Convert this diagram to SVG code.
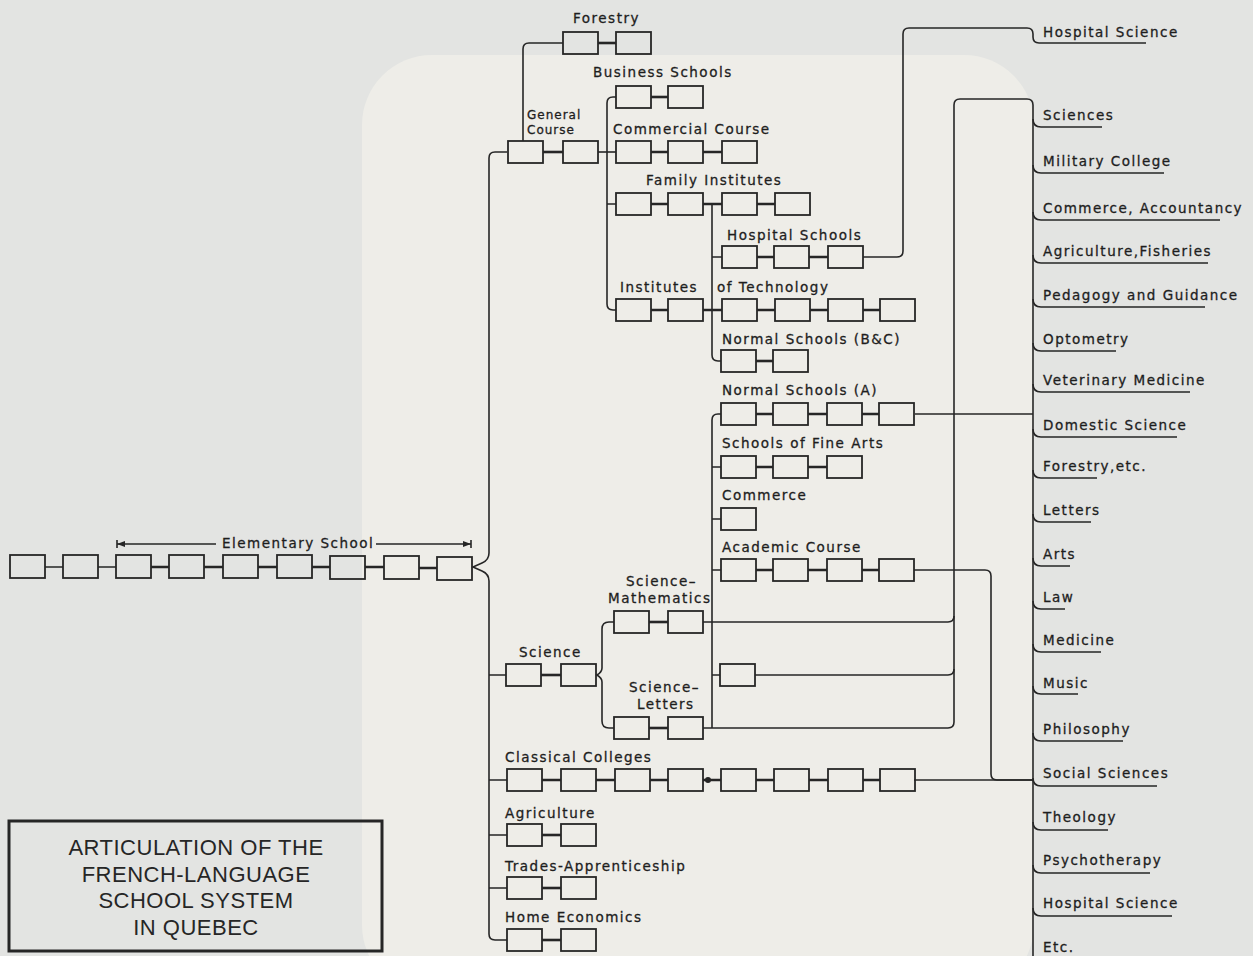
<svg xmlns="http://www.w3.org/2000/svg" width="1253" height="956" viewBox="0 0 1253 956">
<style>
.b{fill:none;stroke:#262626;stroke-width:1.8}
.lk{stroke:#262626;stroke-width:2.6}
.c{fill:none;stroke:#262626;stroke-width:1.6}
.t{font-family:"DejaVu Sans",sans-serif;font-size:13.5px;letter-spacing:1.5px;fill:#1e1e1e;stroke:#1e1e1e;stroke-width:0.3}
.ts{font-size:12px;letter-spacing:1px}
.ti{font-family:"Liberation Sans",sans-serif;font-size:22px;letter-spacing:0.5px;fill:#262626;text-anchor:middle}
</style>
<rect width="1253" height="956" fill="#e3e4e2"/>
<rect x="362" y="55" width="672" height="940" rx="70" fill="#eeede8"/>

<g id="connectors">
  <path class="c" d="M507,152 H495 Q489,152 489,158 V553 Q489,560 482,563 L473,567 L482,571 Q489,574 489,581 V934 Q489,940 495,940 H507"/>
  <path class="c" d="M489,675 H506 M489,780 H507 M489,835 H507 M489,888 H507"/>
  <path class="c" d="M523,141 V49 Q523,43 529,43 H563"/>
  <path class="c" d="M598,152 H616"/>
  <path class="c" d="M616,97 H613 Q607,97 607,103 V304 Q607,310 613,310 H616 M607,204 H616"/>
  <path class="c" d="M712,204 V355 Q712,361 718,361 H721 M712,257 H722"/>
  <path class="c" d="M863,257 H897 Q903,257 903,251 V34 Q903,28 909,28 H1027 Q1033,28 1033,34 V37 Q1033,43 1039,43 H1146"/>
  <path class="c" d="M721,414 H718 Q712,414 712,420 V728 M712,467 H721 M712,519 H721 M712,570 H721 M712,675 H720"/>
  <path class="c" d="M614,622 H609 Q602,622 602,629 V668 Q602,672 597,675 Q602,678 602,682 V721 Q602,728 609,728 H614"/>
  <path class="c" d="M703,728 H948 Q954,728 954,722 V105 Q954,99 960,99 H1027 Q1033,99 1033,105 V956"/>
  <path class="c" d="M703,622 H948 Q954,622 954,616 M755,675 H948 Q954,675 954,669"/>
  <path class="c" d="M915,414 H1033"/>
  <path class="c" d="M914,570 H985 Q991,570 991,576 V774 Q991,780 997,780 H1033"/>
  <path class="c" d="M914,780 H1033"/>
  <path class="c" d="M1033,119 Q1033,127 1041,127 H1102 M1033,165 Q1033,173 1041,173 H1164 M1033,212 Q1033,220 1041,220 H1220 M1033,255 Q1033,263 1041,263 H1208 M1033,299 Q1033,307 1041,307 H1205 M1033,343 Q1033,351 1041,351 H1116 M1033,384 Q1033,392 1041,392 H1190 M1033,429 Q1033,437 1041,437 H1177 M1033,470 Q1033,478 1041,478 H1097 M1033,514 Q1033,522 1041,522 H1091 M1033,558 Q1033,566 1041,566 H1070 M1033,601 Q1033,609 1041,609 H1065 M1033,644 Q1033,652 1041,652 H1101 M1033,686 Q1033,694 1041,694 H1078 M1033,733 Q1033,741 1041,741 H1123 M1033,778 Q1033,786 1041,786 H1157 M1033,822 Q1033,830 1041,830 H1108 M1033,865 Q1033,873 1041,873 H1150 M1033,908 Q1033,916 1041,916 H1172"/>
</g>

<g id="n-elementary">
  <text class="t" x="222" y="548">Elementary School</text>
  <path class="c" d="M117,544 H216 M376,544 H471 M117,540 V548 M471,540 V548"/>
  <polygon points="117,544 125,541 125,547" fill="#262626"/>
  <polygon points="471,544 463,541 463,547" fill="#262626"/>
  <rect class="b" x="10" y="555" width="35" height="23"/><rect class="b" x="63" y="555" width="35" height="23"/><rect class="b" x="116" y="555" width="35" height="23"/><rect class="b" x="169" y="555" width="35" height="23"/><rect class="b" x="223" y="555" width="35" height="23"/><rect class="b" x="277" y="555" width="35" height="23"/><rect class="b" x="330" y="556" width="35" height="23"/><rect class="b" x="384" y="556" width="35" height="23"/><rect class="b" x="437" y="557" width="35" height="23"/>
  <path class="c" d="M45,567 H63 M98,567 H116"/>
  <path class="lk" d="M151,567 H169 M204,567 H223 M258,567 H277 M312,567 H330 M365,567 H384 M419,568 H437"/>
</g>

<g id="n-forestry">
  <text class="t" x="573" y="23">Forestry</text>
  <rect class="b" x="563" y="32" width="35" height="22"/><rect class="b" x="616" y="32" width="35" height="22"/>
  <path class="lk" d="M598,43 H616"/>
</g>

<g id="n-general">
  <text class="t ts" x="527" y="119">General</text>
  <text class="t ts" x="527" y="134">Course</text>
  <rect class="b" x="508" y="141" width="35" height="22"/><rect class="b" x="563" y="141" width="35" height="22"/>
  <path class="lk" d="M543,152 H563"/>
</g>

<g id="n-business">
  <text class="t" x="593" y="77">Business Schools</text>
  <rect class="b" x="616" y="86" width="35" height="22"/><rect class="b" x="668" y="86" width="35" height="22"/>
  <path class="lk" d="M651,97 H668"/>
</g>

<g id="n-commercial">
  <text class="t" x="613" y="134">Commercial Course</text>
  <rect class="b" x="616" y="141" width="35" height="22"/><rect class="b" x="668" y="141" width="35" height="22"/><rect class="b" x="722" y="141" width="35" height="22"/>
  <path class="lk" d="M651,152 H668 M703,152 H722"/>
</g>

<g id="n-family">
  <text class="t" x="646" y="185">Family Institutes</text>
  <rect class="b" x="616" y="193" width="35" height="22"/><rect class="b" x="668" y="193" width="35" height="22"/><rect class="b" x="722" y="193" width="35" height="22"/><rect class="b" x="775" y="193" width="35" height="22"/>
  <path class="lk" d="M651,204 H668 M703,204 H722 M757,204 H775"/>
</g>

<g id="n-hospital-schools">
  <text class="t" x="727" y="240">Hospital Schools</text>
  <rect class="b" x="722" y="246" width="35" height="22"/><rect class="b" x="774" y="246" width="35" height="22"/><rect class="b" x="828" y="246" width="35" height="22"/>
  <path class="lk" d="M757,257 H774 M809,257 H828"/>
</g>

<g id="n-institutes">
  <text class="t" x="620" y="292">Institutes</text>
  <text class="t" x="717" y="292">of  Technology</text>
  <rect class="b" x="616" y="299" width="35" height="22"/><rect class="b" x="668" y="299" width="35" height="22"/><rect class="b" x="722" y="299" width="35" height="22"/><rect class="b" x="775" y="299" width="35" height="22"/><rect class="b" x="828" y="299" width="35" height="22"/><rect class="b" x="880" y="299" width="35" height="22"/>
  <path class="lk" d="M651,310 H668 M703,310 H722 M757,310 H775 M810,310 H828 M863,310 H880"/>
</g>

<g id="n-normal-bc">
  <text class="t" x="722" y="344">Normal Schools (B&amp;C)</text>
  <rect class="b" x="721" y="350" width="35" height="22"/><rect class="b" x="773" y="350" width="35" height="22"/>
  <path class="lk" d="M756,361 H773"/>
</g>

<g id="n-normal-a">
  <text class="t" x="722" y="395">Normal Schools (A)</text>
  <rect class="b" x="721" y="403" width="35" height="22"/><rect class="b" x="773" y="403" width="35" height="22"/><rect class="b" x="827" y="403" width="35" height="22"/><rect class="b" x="879" y="403" width="35" height="22"/>
  <path class="lk" d="M756,414 H773 M808,414 H827 M862,414 H879"/>
</g>

<g id="n-fine-arts">
  <text class="t" x="722" y="448">Schools of Fine Arts</text>
  <rect class="b" x="721" y="456" width="35" height="22"/><rect class="b" x="773" y="456" width="35" height="22"/><rect class="b" x="827" y="456" width="35" height="22"/>
  <path class="lk" d="M756,467 H773 M808,467 H827"/>
</g>

<g id="n-commerce">
  <text class="t" x="722" y="500">Commerce</text>
  <rect class="b" x="721" y="508" width="35" height="22"/>
</g>

<g id="n-academic">
  <text class="t" x="722" y="552">Academic Course</text>
  <rect class="b" x="721" y="559" width="35" height="22"/><rect class="b" x="773" y="559" width="35" height="22"/><rect class="b" x="827" y="559" width="35" height="22"/><rect class="b" x="879" y="559" width="35" height="22"/>
  <path class="lk" d="M756,570 H773 M808,570 H827 M862,570 H879"/>
</g>

<g id="n-sci-math">
  <text class="t" x="626" y="586">Science–</text>
  <text class="t" x="608" y="603">Mathematics</text>
  <rect class="b" x="614" y="611" width="35" height="22"/><rect class="b" x="668" y="611" width="35" height="22"/>
  <path class="lk" d="M649,622 H668"/>
</g>

<g id="n-science">
  <text class="t" x="519" y="657">Science</text>
  <rect class="b" x="506" y="664" width="35" height="22"/><rect class="b" x="561" y="664" width="35" height="22"/>
  <path class="lk" d="M541,675 H561"/>
</g>

<g id="n-single">
  <rect class="b" x="720" y="664" width="35" height="22"/>
</g>

<g id="n-sci-letters">
  <text class="t" x="629" y="692">Science–</text>
  <text class="t" x="637" y="709">Letters</text>
  <rect class="b" x="614" y="717" width="35" height="22"/><rect class="b" x="668" y="717" width="35" height="22"/>
  <path class="lk" d="M649,728 H668"/>
</g>

<g id="n-classical">
  <text class="t" x="505" y="762">Classical Colleges</text>
  <rect class="b" x="507" y="769" width="35" height="22"/><rect class="b" x="561" y="769" width="35" height="22"/><rect class="b" x="615" y="769" width="35" height="22"/><rect class="b" x="668" y="769" width="35" height="22"/><rect class="b" x="721" y="769" width="35" height="22"/><rect class="b" x="774" y="769" width="35" height="22"/><rect class="b" x="828" y="769" width="35" height="22"/><rect class="b" x="880" y="769" width="35" height="22"/>
  <path class="lk" d="M542,780 H561 M596,780 H615 M650,780 H668 M703,780 H721 M756,780 H774 M809,780 H828 M863,780 H880"/>
  <circle cx="708" cy="780" r="3" fill="#262626"/>
</g>

<g id="n-agriculture">
  <text class="t" x="505" y="818">Agriculture</text>
  <rect class="b" x="507" y="824" width="35" height="22"/><rect class="b" x="561" y="824" width="35" height="22"/>
  <path class="lk" d="M542,835 H561"/>
</g>

<g id="n-trades">
  <text class="t" x="505" y="871">Trades-Apprenticeship</text>
  <rect class="b" x="507" y="877" width="35" height="22"/><rect class="b" x="561" y="877" width="35" height="22"/>
  <path class="lk" d="M542,888 H561"/>
</g>

<g id="n-home">
  <text class="t" x="505" y="922">Home Economics</text>
  <rect class="b" x="507" y="929" width="35" height="22"/><rect class="b" x="561" y="929" width="35" height="22"/>
  <path class="lk" d="M542,940 H561"/>
</g>

<g id="n-outcomes">
  <text class="t" x="1043" y="37">Hospital Science</text>
  <text class="t" x="1043" y="120">Sciences</text>
  <text class="t" x="1043" y="166">Military College</text>
  <text class="t" x="1043" y="213">Commerce, Accountancy</text>
  <text class="t" x="1043" y="256">Agriculture,Fisheries</text>
  <text class="t" x="1043" y="300">Pedagogy and Guidance</text>
  <text class="t" x="1043" y="344">Optometry</text>
  <text class="t" x="1043" y="385">Veterinary Medicine</text>
  <text class="t" x="1043" y="430">Domestic Science</text>
  <text class="t" x="1043" y="471">Forestry,etc.</text>
  <text class="t" x="1043" y="515">Letters</text>
  <text class="t" x="1043" y="559">Arts</text>
  <text class="t" x="1043" y="602">Law</text>
  <text class="t" x="1043" y="645">Medicine</text>
  <text class="t" x="1043" y="688">Music</text>
  <text class="t" x="1043" y="734">Philosophy</text>
  <text class="t" x="1043" y="778">Social Sciences</text>
  <text class="t" x="1043" y="822">Theology</text>
  <text class="t" x="1043" y="865">Psychotherapy</text>
  <text class="t" x="1043" y="908">Hospital Science</text>
  <text class="t" x="1043" y="952">Etc.</text>
</g>

<g id="n-title">
  <rect x="9" y="821" width="373" height="130" fill="none" stroke="#262626" stroke-width="3"/>
  <text class="ti" x="196" y="855">ARTICULATION OF THE</text>
  <text class="ti" x="196" y="882">FRENCH-LANGUAGE</text>
  <text class="ti" x="196" y="908">SCHOOL SYSTEM</text>
  <text class="ti" x="196" y="935">IN QUEBEC</text>
</g>
</svg>
